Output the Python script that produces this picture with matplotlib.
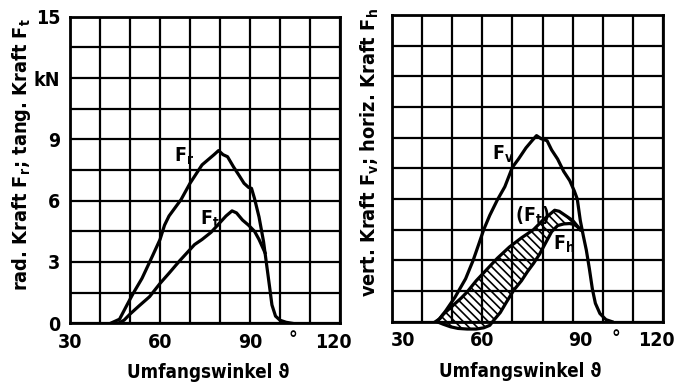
import matplotlib
matplotlib.use("Agg")
import matplotlib.pyplot as plt
from matplotlib.transforms import ScaledTranslation

# Umfangswinkel in Grad, Kräfte in kN
fr_angle = [43.5, 46.5, 49, 51, 54, 57.5, 60, 61.5, 63, 65, 67, 70, 72, 74, 76, 78,
            79.5, 81, 82.5, 84.5, 86.5, 88, 89.5, 90.5, 91.5, 93, 94.5, 95, 96.5,
            97.3, 98.5, 100, 102, 104]
fr_force = [0, 0.2, 0.9, 1.45, 2.2, 3.3, 4.1, 4.8, 5.25, 5.65, 6.05, 6.85, 7.3, 7.75,
            8.0, 8.25, 8.45, 8.25, 8.15, 7.65, 7.2, 6.85, 6.65, 6.6, 6.1, 5.2, 4.0,
            3.45, 1.8, 0.9, 0.35, 0.15, 0.05, 0]

ft_angle = [46, 48, 50, 53, 56.5, 60, 63, 66.5, 69, 71.5, 74, 77, 79.5, 82, 84,
            85.5, 87.5, 89.5, 91.5, 93, 95]
ft_force = [0, 0.15, 0.45, 0.85, 1.3, 1.95, 2.45, 3.05, 3.45, 3.85, 4.1, 4.45, 4.85,
            5.25, 5.5, 5.4, 5.05, 4.8, 4.5, 4.1, 3.45]

fv_angle = [44.5, 46, 48, 51, 54.5, 57, 59, 60.5, 62.5, 65, 67.5, 70, 72, 74.5, 76.5,
            78, 79.5, 81.5, 83, 85, 87, 89, 90.5, 91.5, 92.5, 93.5, 94.5, 95.5, 96.5,
            97.5, 99, 101, 103]
fv_force = [0, 0.15, 0.55, 1.2, 2.1, 3.0, 3.85, 4.5, 5.2, 5.95, 6.6, 7.55, 7.95, 8.5,
            8.85, 9.1, 8.95, 8.85, 8.4, 7.95, 7.35, 6.9, 6.4, 6.0, 4.95, 4.2, 3.5, 2.6,
            1.6, 0.9, 0.4, 0.1, 0]

ft2_angle = [45, 47, 50, 53, 55, 58, 61.5, 65, 69, 73, 77, 80, 82, 84, 85.5, 87.5,
             90, 92.5]
ft2_force = [0, 0.35, 0.75, 1.15, 1.45, 2.0, 2.55, 3.1, 3.65, 4.1, 4.5, 4.95, 5.2,
             5.45, 5.4, 5.2, 4.95, 4.5]

fh_angle = [45, 47, 49.5, 52, 55, 58, 60.5, 62.5, 64, 66, 68, 70.5, 73, 75, 77, 79,
            81, 83, 85, 87, 89, 90.5, 91.5, 92.5]
fh_force = [0, -0.12, -0.25, -0.33, -0.36, -0.36, -0.3, -0.18, 0.1, 0.45, 0.95, 1.55,
            2.0, 2.45, 2.85, 3.3, 3.85, 4.4, 4.7, 4.78, 4.8, 4.75, 4.65, 4.5]

x_grid = [30, 40, 50, 60, 70, 80, 90, 100, 110, 120]
x_labels = ["30", "", "", "60", "", "", "90", "", "", "120"]
y_grid = [0, 1.5, 3, 4.5, 6, 7.5, 9, 10.5, 12, 13.5, 15]
y_labels = ["0", "", "3", "", "6", "", "9", "", "kN", "", "15"]

plt.rcParams["font.family"] = ["DejaVu Sans"]
plt.rcParams["font.stretch"] = "condensed"
plt.rcParams["font.weight"] = "bold"
plt.rcParams["axes.labelweight"] = "bold"
plt.rcParams["mathtext.default"] = "regular"
plt.rcParams["hatch.linewidth"] = 1.2
FS = 14

fig = plt.figure(figsize=(6.74, 3.82), dpi=100)
ax1 = fig.add_axes([0.1039, 0.1537, 0.4006, 0.8026])
ax2 = fig.add_axes([0.5811, 0.1579, 0.4030, 0.8029])


def nudge(label, dx_px):
    label.set_transform(label.get_transform()
                        + ScaledTranslation(dx_px / fig.dpi, 0, fig.dpi_scale_trans))


for ax in (ax1, ax2):
    ax.set_xlim(30, 120)
    ax.set_ylim(0, 15)
    ax.set_xticks(x_grid)
    ax.set_xticklabels(x_labels)
    ax.set_yticks(y_grid)
    ax.grid(True, color="black", linewidth=1.6)
    ax.set_axisbelow(True)
    ax.tick_params(length=0, labelsize=FS, pad=7)
    for sp in ax.spines.values():
        sp.set_linewidth(2.0)
    ax.text(104.3, -0.35, "°", fontsize=FS, ha="center", va="top")
    ax.set_xlabel("Umfangswinkel ϑ", fontsize=13.5)

ax1.set_yticklabels(y_labels)
ax2.set_yticklabels([])
ax1.xaxis.set_label_coords(0.513, -0.13)
ax2.xaxis.set_label_coords(0.475, -0.13)

# Beschriftungen an den Rändern etwas einrücken
xt1 = ax1.get_xticklabels()
xt2 = ax2.get_xticklabels()
nudge(xt1[-1], -7)
nudge(xt2[0], 11)
nudge(xt2[6], 8)
nudge(xt2[-1], -7)

lw = 2.3
ax1.plot(fr_angle, fr_force, color="black", lw=lw, solid_joinstyle="round")
ax1.plot(ft_angle, ft_force, color="black", lw=lw, solid_joinstyle="round")
ax1.text(64.7, 7.9, "$F_r$", fontsize=FS)
ax1.text(73.3, 4.8, "$F_t$", fontsize=FS)
ax1.set_ylabel("rad. Kraft $F_r$; tang. Kraft $F_t$", fontsize=14.3)
ax1.yaxis.set_label_coords(-0.137, 0.55)

ax2.plot(fv_angle, fv_force, color="black", lw=lw, solid_joinstyle="round")
# schraffierter Bereich zwischen (Ft) und Fh
band_x = ft2_angle + fh_angle[::-1]
band_y = ft2_force + fh_force[::-1]
ax2.fill(band_x, band_y, facecolor="none", edgecolor="black", hatch="\\\\\\\\",
         linewidth=0, clip_on=False)
ax2.plot(ft2_angle, ft2_force, color="black", lw=lw, solid_joinstyle="round")
ax2.plot(fh_angle, fh_force, color="black", lw=lw, solid_joinstyle="round",
         clip_on=False)
ax2.text(63.1, 7.9, "$F_v$", fontsize=FS)
ax2.text(70.9, 4.87, "$(F_t)$", fontsize=FS)
ax2.text(83.5, 3.5, "$F_h$", fontsize=FS)
ax2.set_ylabel("vert. Kraft $F_v$; horiz. Kraft $F_h$", fontsize=14.3)
ax2.yaxis.set_label_coords(-0.039, 0.55)

fig.savefig("out.png", dpi=100)
